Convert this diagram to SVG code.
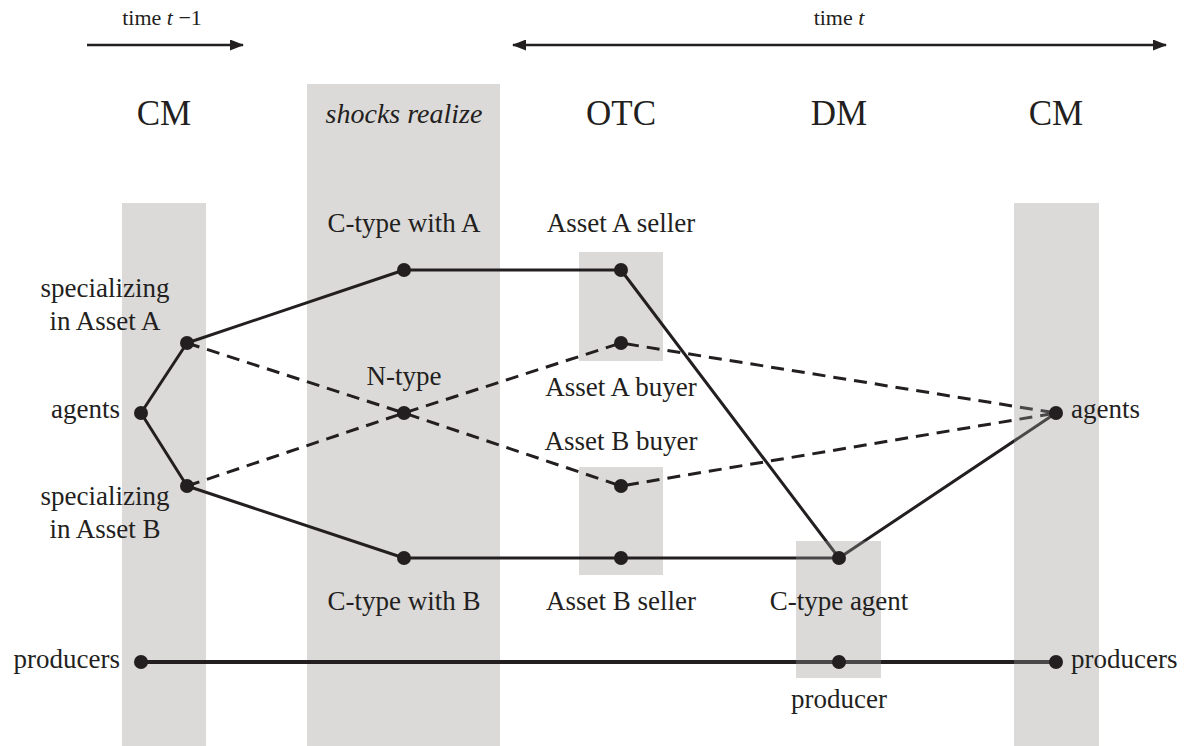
<svg xmlns="http://www.w3.org/2000/svg" width="1191" height="746" viewBox="0 0 1191 746" font-family="'Liberation Serif', 'Times New Roman', serif">
  <style>
    .band { fill: #dbdad9; }
    .veil { fill: #dbdad9; opacity: 0.22; }
    .solid { fill: none; stroke: #231f20; stroke-width: 3; stroke-linejoin: round; }
    .thick { fill: none; stroke: #231f20; stroke-width: 4; }
    .dash { fill: none; stroke: #231f20; stroke-width: 3; stroke-dasharray: 13 8; }
    .axis { fill: none; stroke: #231f20; stroke-width: 2.5; }
    .dot { fill: #231f20; }
    text { font-family: 'Liberation Serif', 'Times New Roman', serif; fill: #231f20; }
    .head { font-size: 35px; text-anchor: middle; }
    .stage-note { font-size: 28px; font-style: italic; text-anchor: middle; }
    .lbl { font-size: 27px; }
    .mid { text-anchor: middle; }
    .end { text-anchor: end; }
    .time { font-size: 22px; text-anchor: middle; }
  </style>
  <defs>
    <marker id="arrowEnd" viewBox="0 0 14 11" refX="13" refY="5.5" markerWidth="14" markerHeight="11" markerUnits="userSpaceOnUse" orient="auto">
      <path d="M0,0 L14,5.5 L0,11 Z" fill="#231f20"/>
    </marker>
    <marker id="arrowStart" viewBox="0 0 14 11" refX="1" refY="5.5" markerWidth="14" markerHeight="11" markerUnits="userSpaceOnUse" orient="auto">
      <path d="M14,0 L0,5.5 L14,11 Z" fill="#231f20"/>
    </marker>
  </defs>

  <!-- timeline -->
  <g id="timeline">
    <text class="time" x="162" y="25">time <tspan font-style="italic">t</tspan> −1</text>
    <line class="axis" x1="87" y1="45" x2="243" y2="45" marker-end="url(#arrowEnd)"/>
    <text class="time" x="839" y="25">time <tspan font-style="italic">t</tspan></text>
    <line class="axis" x1="513" y1="45" x2="1166" y2="45" marker-start="url(#arrowStart)" marker-end="url(#arrowEnd)"/>
  </g>

  <!-- stage bands -->
  <g id="bands">
    <rect class="band" x="122" y="203" width="84" height="543"/>
    <rect class="band" x="307" y="84" width="193" height="662"/>
    <rect class="band" x="579" y="252" width="84" height="109"/>
    <rect class="band" x="579" y="467" width="84" height="108"/>
    <rect class="band" x="796" y="541" width="85" height="137"/>
    <rect class="band" x="1014" y="203" width="85" height="543"/>
  </g>

  <!-- stage headings -->
  <g id="headings">
    <text class="head" x="164" y="125">CM</text>
    <text class="stage-note" x="404" y="123">shocks realize</text>
    <text class="head" x="621" y="125">OTC</text>
    <text class="head" x="839" y="125">DM</text>
    <text class="head" x="1056" y="125">CM</text>
  </g>

  <!-- connectors -->
  <g id="connectors">
    <polyline class="solid" points="187,343 141,413 187,486"/>
    <polyline class="solid" points="187,343 404,270 621,270 839,558 1056,413"/>
    <polyline class="solid" points="187,486 404,558 839,558"/>
    <line class="thick" x1="141" y1="662" x2="1056" y2="662"/>
    <polyline class="dash" points="187,343 404,413 621,486 1056,413"/>
    <polyline class="dash" points="187,486 404,413 621,343 1056,413"/>
  </g>

  <!-- light veil over the DM and closing CM bands -->
  <g id="veils">
    <rect class="veil" x="796" y="541" width="85" height="137"/>
    <rect class="veil" x="1014" y="203" width="85" height="543"/>
  </g>

  <!-- nodes -->
  <g id="node-agents-cm0">
    <circle class="dot" cx="141" cy="413" r="7"/>
    <text class="lbl end" x="120" y="418">agents</text>
  </g>
  <g id="node-spec-a">
    <circle class="dot" cx="187" cy="343" r="7"/>
    <text class="lbl mid" x="105" y="297">specializing</text>
    <text class="lbl mid" x="105" y="330">in Asset A</text>
  </g>
  <g id="node-spec-b">
    <circle class="dot" cx="187" cy="486" r="7"/>
    <text class="lbl mid" x="105" y="505">specializing</text>
    <text class="lbl mid" x="105" y="538">in Asset B</text>
  </g>
  <g id="node-ctype-a">
    <circle class="dot" cx="404" cy="270" r="7"/>
    <text class="lbl mid" x="404" y="232">C-type with A</text>
  </g>
  <g id="node-ntype">
    <circle class="dot" cx="404" cy="413" r="7"/>
    <text class="lbl mid" x="404" y="385">N-type</text>
  </g>
  <g id="node-ctype-b">
    <circle class="dot" cx="404" cy="558" r="7"/>
    <text class="lbl mid" x="404" y="610">C-type with B</text>
  </g>
  <g id="node-a-seller">
    <circle class="dot" cx="621" cy="270" r="7"/>
    <text class="lbl mid" x="621" y="232">Asset A seller</text>
  </g>
  <g id="node-a-buyer">
    <circle class="dot" cx="621" cy="343" r="7"/>
    <text class="lbl mid" x="621" y="396">Asset A buyer</text>
  </g>
  <g id="node-b-buyer">
    <circle class="dot" cx="621" cy="486" r="7"/>
    <text class="lbl mid" x="621" y="450">Asset B buyer</text>
  </g>
  <g id="node-b-seller">
    <circle class="dot" cx="621" cy="558" r="7"/>
    <text class="lbl mid" x="621" y="610">Asset B seller</text>
  </g>
  <g id="node-dm-agent">
    <circle class="dot" cx="839" cy="558" r="7"/>
    <text class="lbl mid" x="839" y="610">C-type agent</text>
  </g>
  <g id="node-dm-producer">
    <circle class="dot" cx="839" cy="662" r="7"/>
    <text class="lbl mid" x="839" y="708">producer</text>
  </g>
  <g id="node-producers-cm0">
    <circle class="dot" cx="141" cy="662" r="7"/>
    <text class="lbl end" x="120" y="668">producers</text>
  </g>
  <g id="node-agents-cm1">
    <circle class="dot" cx="1056" cy="413" r="7"/>
    <text class="lbl" x="1071" y="418">agents</text>
  </g>
  <g id="node-producers-cm1">
    <circle class="dot" cx="1056" cy="662" r="7"/>
    <text class="lbl" x="1071" y="668">producers</text>
  </g>
</svg>
